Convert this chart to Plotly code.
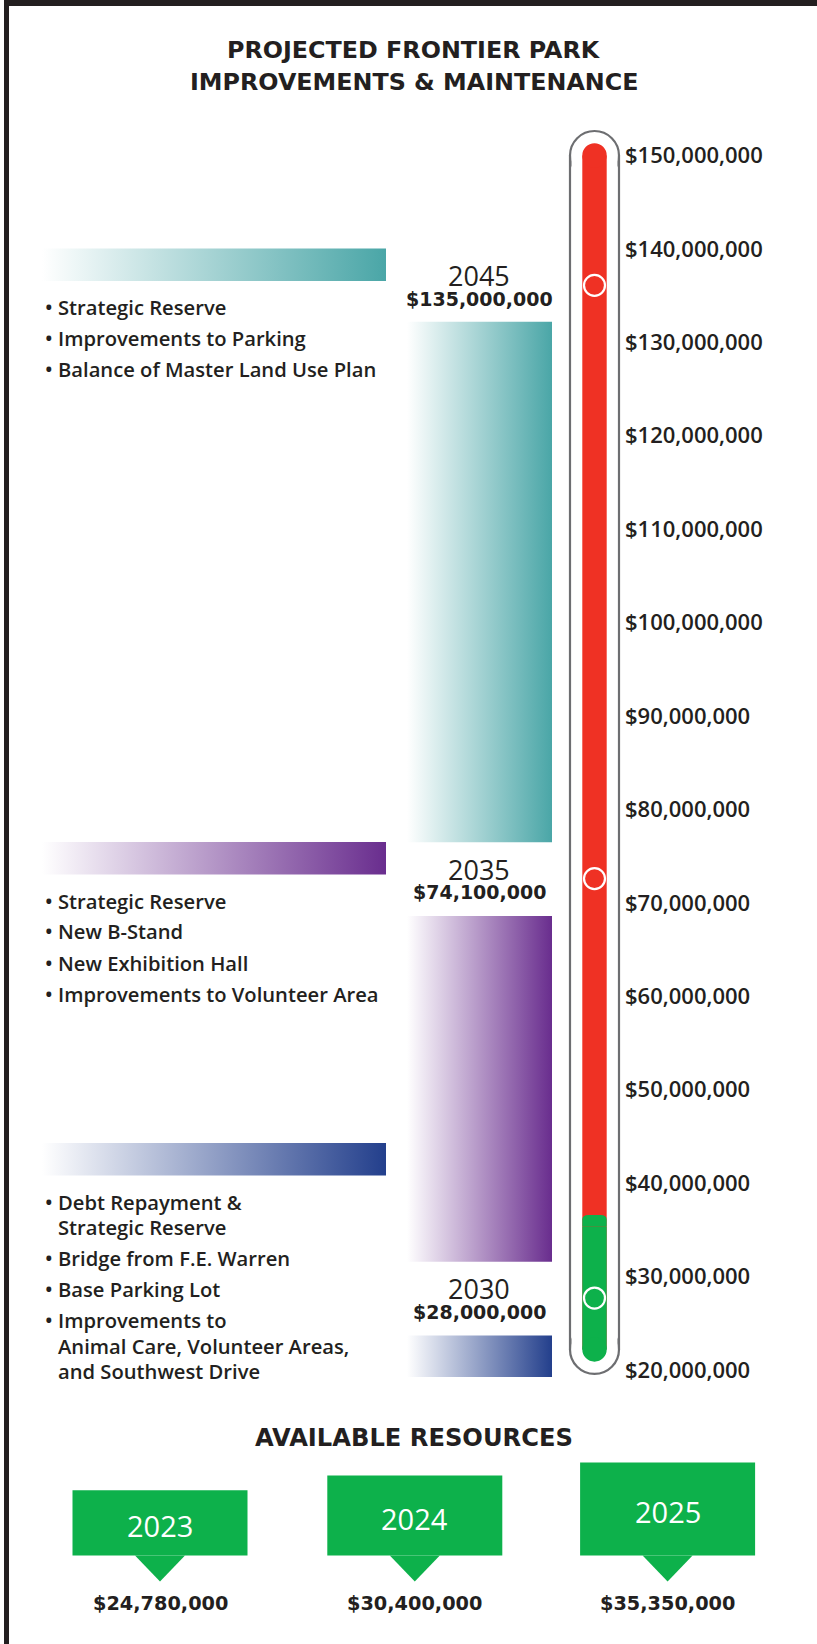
import plotly.graph_objects as go

W, H = 817, 1644

# ---------------- data ----------------
tick_values = [20e6, 30e6, 40e6, 50e6, 60e6, 70e6, 80e6, 90e6, 100e6,
               110e6, 120e6, 130e6, 140e6, 150e6]
tick_labels = ["${:,.0f}".format(v) for v in tick_values]

phase_years = ["2045", "2035", "2030"]
phase_amounts = [135_000_000, 74_100_000, 28_000_000]
marker_levels = [136.1e6, 72.6e6, 27.7e6]        # rings on the thermometer
phase_bar_low = [76.5e6, 31.6e6, 19.25e6]        # vertical gradient bars
phase_bar_high = [132.2e6, 68.6e6, 23.7e6]
phase_colors = ["#4aa6a7", "#692d8e", "#233f8c"]
phase_items = [
    [["Strategic Reserve"], ["Improvements to Parking"],
     ["Balance of Master Land Use Plan"]],
    [["Strategic Reserve"], ["New B-Stand"], ["New Exhibition Hall"],
     ["Improvements to Volunteer Area"]],
    [["Debt Repayment &", "Strategic Reserve"], ["Bridge from F.E. Warren"],
     ["Base Parking Lot"],
     ["Improvements to", "Animal Care, Volunteer Areas,", "and Southwest Drive"]],
]

goal_level = 150e6
available_years = ["2023", "2024", "2025"]
available_amounts = [24_780_000, 30_400_000, 35_350_000]

# ---------------- layout constants ----------------
TEXT = "#231f20"
RED = "#ef3124"
GREEN = "#0db14b"
GRAY = "#6d6e71"

PX_20, PX_PER_M = 1370.0, 9.3423          # y-axis placement in the page


def px2v(px):
    return 20e6 + (PX_20 - px) / PX_PER_M * 1e6


def pp(px):
    return 1 - px / H


Y2_BASE_PX, Y2_PX_PER_M = 1555.4, 2.627
y2_range = [-(H - Y2_BASE_PX) / Y2_PX_PER_M * 1e6, Y2_BASE_PX / Y2_PX_PER_M * 1e6]

TX = 594.5            # thermometer centre (x axis is in page pixels)
TUBE_R, BAR_R = 24.5, 12.2
THERMO_BASE = 22.2e6

fig = go.Figure()


def grad_rect(x0, x1, y0, y1, color):
    return go.Scatter(
        x=[x0, x1, x1, x0, x0], y=[y0, y0, y1, y1, y0],
        mode="lines", line=dict(width=0, color=color), fill="toself",
        fillgradient=dict(type="horizontal",
                          colorscale=[[0, "#ffffff"], [1, color]]),
        hoverinfo="skip", showlegend=False)


band_top_px = [248.6, 842.0, 1143.0]
BAND_H = 32.5
for i in range(3):
    fig.add_trace(grad_rect(42, 386, px2v(band_top_px[i] + BAND_H),
                            px2v(band_top_px[i]), phase_colors[i]))
    fig.add_trace(grad_rect(407, 552, phase_bar_low[i], phase_bar_high[i],
                            phase_colors[i]))

shapes = []
# page frame (top and left rules)
shapes.append(dict(type="rect", xref="paper", yref="paper", x0=4 / W, x1=9 / W,
                   y0=0, y1=1, fillcolor="#231f20", line=dict(width=0)))
shapes.append(dict(type="rect", xref="paper", yref="paper", x0=4 / W, x1=1,
                   y0=pp(6), y1=1, fillcolor="#231f20", line=dict(width=0)))

# thermometer tube
for lvl in (goal_level, THERMO_BASE):
    shapes.append(dict(type="circle", xref="x", yref="y", xsizemode="pixel",
                       ysizemode="pixel", xanchor=TX, yanchor=lvl,
                       x0=-TUBE_R, x1=TUBE_R, y0=-TUBE_R, y1=TUBE_R,
                       line=dict(color=GRAY, width=2.2), fillcolor="white",
                       layer="below"))
shapes.append(dict(type="rect", xref="x", yref="y", x0=TX - TUBE_R + 1.5,
                   x1=TX + TUBE_R - 1.5, y0=THERMO_BASE, y1=goal_level,
                   fillcolor="white", line=dict(width=0), layer="below"))
for xx in (TX - TUBE_R, TX + TUBE_R):
    shapes.append(dict(type="line", xref="x", yref="y", x0=xx, x1=xx,
                       y0=THERMO_BASE, y1=goal_level,
                       line=dict(color=GRAY, width=2.2), layer="below"))

# red (needed) column
shapes.append(dict(type="rect", xref="x", yref="y", x0=TX - BAR_R, x1=TX + BAR_R,
                   y0=THERMO_BASE, y1=goal_level, fillcolor=RED,
                   line=dict(width=0), layer="below"))
shapes.append(dict(type="circle", xref="x", yref="y", xsizemode="pixel",
                   ysizemode="pixel", xanchor=TX, yanchor=goal_level,
                   x0=-BAR_R, x1=BAR_R, y0=-BAR_R, y1=BAR_R, fillcolor=RED,
                   line=dict(width=0), layer="below"))
# green (available) column
avail_top = available_amounts[-1]
shapes.append(dict(type="rect", xref="x", yref="y", x0=TX - BAR_R, x1=TX + BAR_R,
                   y0=THERMO_BASE, y1=avail_top, fillcolor=GREEN,
                   line=dict(width=0), layer="below"))
shapes.append(dict(type="circle", xref="x", yref="y", xsizemode="pixel",
                   ysizemode="pixel", xanchor=TX, yanchor=THERMO_BASE,
                   x0=-BAR_R, x1=BAR_R, y0=-BAR_R, y1=BAR_R, fillcolor=GREEN,
                   line=dict(width=0), layer="below"))
shapes.append(dict(type="path", xref="x", yref="y", xsizemode="pixel",
                   ysizemode="pixel", xanchor=TX, yanchor=avail_top,
                   path="M-12.2,0 L-12.2,7 Q-12.2,11.5 -6,11.5 L6,11.5 "
                        "Q12.2,11.5 12.2,7 L12.2,0 Z",
                   fillcolor=GREEN, line=dict(width=0), layer="below"))

# rings
fig.add_trace(go.Scatter(x=[TX] * 3, y=marker_levels, mode="markers",
                         marker=dict(symbol="circle-open", size=21, color="white",
                                     line=dict(width=2.2, color="white")),
                         hoverinfo="skip", showlegend=False))

# available resources boxes
box_x = [160, 414.8, 667.6]
fig.add_trace(go.Bar(x=box_x, y=available_amounts, width=175, yaxis="y2",
                     marker=dict(color=GREEN, line=dict(width=0)),
                     hoverinfo="skip", showlegend=False))
for bx in box_x:
    shapes.append(dict(type="path", xref="x", yref="y2", xsizemode="pixel",
                       ysizemode="pixel", xanchor=bx, yanchor=0,
                       path="M-25,0 L25,0 L0,-26 Z", fillcolor=GREEN,
                       line=dict(width=0)))

annotations = []
TITLE_FONT = dict(family="DejaVu Sans", size=23.8, color=TEXT, weight="bold")
annotations.append(dict(xref="paper", yref="paper", x=414 / W, y=pp(50),
                        text="PROJECTED FRONTIER PARK", showarrow=False,
                        font=TITLE_FONT, xanchor="center", yanchor="middle"))
annotations.append(dict(xref="paper", yref="paper", x=414 / W, y=pp(82),
                        text="IMPROVEMENTS & MAINTENANCE", showarrow=False,
                        font=TITLE_FONT, xanchor="center", yanchor="middle"))
annotations.append(dict(xref="paper", yref="paper", x=414 / W, y=pp(1438),
                        text="AVAILABLE RESOURCES", showarrow=False,
                        font=dict(TITLE_FONT, size=24.2), xanchor="center",
                        yanchor="middle"))

BULLET_FONT = dict(family="Open Sans", size=20.2, color=TEXT, weight=600)
for i in range(3):
    y = band_top_px[i] + BAND_H + 26
    for item in phase_items[i]:
        annotations.append(dict(xref="paper", yref="paper", x=43 / W, y=pp(y),
                                text="•", showarrow=False, font=BULLET_FONT,
                                xanchor="left", yanchor="middle"))
        for j, line in enumerate(item):
            annotations.append(dict(xref="paper", yref="paper", x=56 / W,
                                    y=pp(y + j * 25.5), text=line,
                                    showarrow=False, font=BULLET_FONT,
                                    xanchor="left", yanchor="middle"))
        y += (len(item) - 1) * 25.5 + 31

    annotations.append(dict(xref="x", yref="y", x=479, y=marker_levels[i],
                            yshift=9.5, text=phase_years[i], showarrow=False,
                            font=dict(family="Open Sans", size=27, color=TEXT),
                            xanchor="center", yanchor="middle"))
    annotations.append(dict(xref="x", yref="y", x=479, y=marker_levels[i],
                            yshift=-13.5, text="${:,.0f}".format(phase_amounts[i]),
                            showarrow=False,
                            font=dict(family="DejaVu Sans", size=19, color=TEXT,
                                      weight="bold"),
                            xanchor="center", yanchor="middle"))

for bx, yr, amt in zip(box_x, available_years, available_amounts):
    annotations.append(dict(xref="x", yref="y2", x=bx, y=amt / 2, yshift=-3,
                            text=yr, showarrow=False,
                            font=dict(family="Open Sans", size=29, color="white"),
                            xanchor="center", yanchor="middle"))
    annotations.append(dict(xref="x", yref="y2", x=bx, y=0, yshift=-47.6,
                            text="${:,.0f}".format(amt), showarrow=False,
                            font=dict(family="DejaVu Sans", size=19.3, color=TEXT,
                                      weight="bold"),
                            xanchor="center", yanchor="middle"))

fig.update_layout(
    width=W, height=H, margin=dict(l=0, r=0, t=0, b=0),
    paper_bgcolor="white", plot_bgcolor="white", showlegend=False,
    xaxis=dict(range=[0, W], domain=[0, 1], visible=False, fixedrange=True),
    yaxis=dict(range=[px2v(H), px2v(0)], domain=[0, 1], anchor="free",
               position=624 / W, side="right", tickvals=tick_values,
               ticktext=tick_labels, ticks="", showgrid=False, zeroline=False,
               showline=False,
               tickfont=dict(family="Open Sans", size=22, color=TEXT, weight=600),
               fixedrange=True),
    yaxis2=dict(range=y2_range, domain=[0, 1], overlaying="y", anchor="x",
                visible=False, fixedrange=True),
    shapes=shapes, annotations=annotations,
)

fig.write_html("out.html", config={"displayModeBar": False},
               post_script="document.body.style.margin='0px';"
                           "document.body.style.overflow='hidden';")
